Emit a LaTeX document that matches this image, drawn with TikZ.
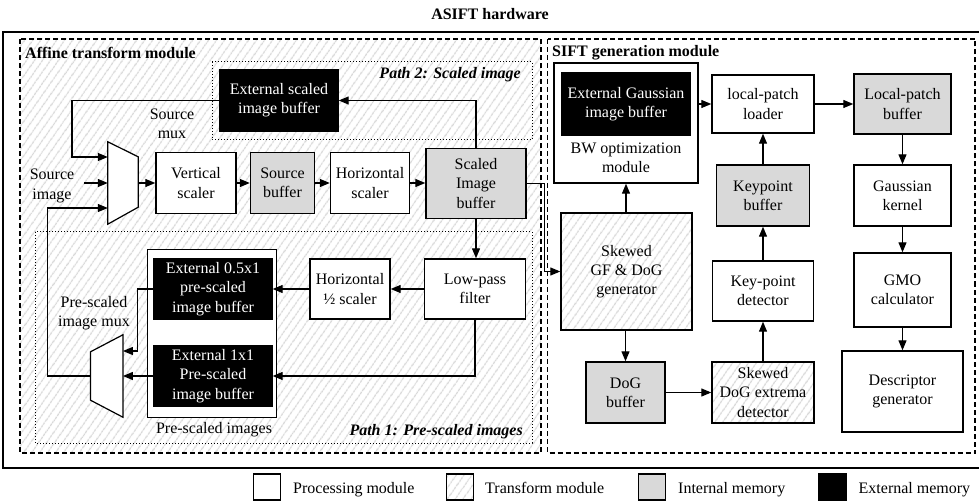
\documentclass[tikz,border=0pt]{standalone}
\usepackage{fontspec}
\setmainfont{Liberation Serif}
\usetikzlibrary{arrows.meta,patterns.meta,calc}
\definecolor{memgray}{RGB}{217,217,217}
\definecolor{hatchgray}{RGB}{216,216,216}

\begin{document}
\begin{tikzpicture}[x=1pt,y=-1pt,
  txt/.style={font=\fontsize{16}{19.3}\selectfont, align=center},
  blk/.style={txt, draw, line width=1.4pt, inner sep=0pt},
  proc/.style={blk, fill=white},
  imem/.style={blk, fill=memgray},
  emem/.style={blk, fill=black, text=white},
  hatched/.style={preaction={fill=white}, pattern={Lines[angle=55,distance=6.5pt,line width=1.4pt]}, pattern color=hatchgray},
  xform/.style={blk, hatched},
  arr/.style={line width=1.2pt, -{Triangle[length=10pt,width=8pt]}},
  ttl/.style={font=\fontsize{16}{19}\selectfont\bfseries},
  pathlbl/.style={font=\fontsize{16}{19}\selectfont\bfseries\itshape},
  modframe/.style={line width=1.1pt, dash pattern=on 5pt off 3pt},
  pathframe/.style={line width=1pt, dotted},
  legbox/.style={draw, line width=1.2pt, minimum width=27, minimum height=26, inner sep=0pt},
  legtxt/.style={font=\fontsize{16}{19}\selectfont, anchor=base west, inner sep=0pt},
]
\useasboundingbox (0,0) rectangle (979,502);

% title and outer frame
\node[ttl] (title) at (490,14) {ASIFT hardware};
\draw[line width=1.5pt] (985,32) -- (3,32) -- (3,468) -- (985,468);

% module frames
\draw[modframe, hatched] (20,39) rectangle (541,453);
\draw[modframe] (547.5,39) rectangle (975,453);
\node[ttl, anchor=west, inner sep=0pt] (afft) at (25,53) {Affine transform module};
\node[ttl, anchor=west, inner sep=0pt] (sift) at (552,53) {SIFT generation module};

% path frames
\draw[pathframe] (212,62) rectangle (532,140);
\draw[pathframe] (35,232) rectangle (532,443);
\node[pathlbl, anchor=east, inner sep=0pt] (p2) at (521,75) {Path 2: Scaled image};
\node[pathlbl, anchor=east, inner sep=0pt] (p1) at (523,432) {Path 1: Pre-scaled images};

% ---- affine transform module ----
\node[emem, minimum width=118, minimum height=61] (extS) at (279,100.5) {External scaled\\image buffer};

% source mux
\node[minimum width=30, minimum height=82, inner sep=0pt] (smux) at (123,183) {};
\draw[line width=1.2pt, fill=white] (smux.north west) -- ([yshift=-15pt]smux.north east)
  -- ([yshift=17pt]smux.south east) -- (smux.south west) -- cycle;
\node[txt] (smuxl) at (172,124) {Source\\mux};
\node[txt] (srcimg) at (52,186) {Source\\image};
\coordinate (srcin) at (84,183);

\node[proc, minimum width=80, minimum height=61] (vs) at (196,183) {Vertical\\scaler};
\node[imem, minimum width=64, minimum height=61] (sb) at (282.5,183) {Source\\buffer};
\node[proc, minimum width=79, minimum height=61] (hs) at (370,183) {Horizontal\\scaler};
\node[imem, minimum width=100, minimum height=70] (shb) at (476,183.5) {Scaled\\Image\\buffer};

\node[proc, minimum width=101, minimum height=60] (lpf) at (475,289) {Low-pass\\filter};
\node[proc, minimum width=80, minimum height=60] (hhs) at (350,289) {Horizontal\\½ scaler};

\node[draw, line width=1.2pt, fill=white, minimum width=129, minimum height=168, inner sep=0pt] (psi) at (212,333.3) {};
\node[txt] (psil) at (214,430) {Pre-scaled images};
\node[emem, minimum width=118, minimum height=60] (e05) at (213,289) {External 0.5x1\\pre-scaled\\image buffer};
\node[emem, minimum width=118, minimum height=60] (e11) at (213,376) {External 1x1\\Pre-scaled\\image buffer};

% pre-scaled image mux
\node[minimum width=32, minimum height=82, inner sep=0pt] (pmux) at (106.7,376) {};
\draw[line width=1.2pt, fill=white] (pmux.north east) -- (pmux.south east)
  -- ([yshift=17pt]pmux.south west) -- ([yshift=-17pt]pmux.north west) -- cycle;
\node[txt] (pmuxl) at (94,313) {Pre-scaled\\image mux};

% affine connectors
\draw[arr] (extS.west) -| (72,157) -- ([yshift=26pt]smux.west);
\draw[arr] (srcin) -- (smux.west);
\draw[arr] (smux.east) -- (vs.west);
\draw[arr] (vs.east) -- (sb.west);
\draw[arr] (sb.east) -- (hs.west);
\draw[arr] (hs.east) -- (hs.east -| shb.west);
\draw[arr] (shb.north) |- (extS.east);
\draw[arr] (shb.south) -- (shb.south |- lpf.north);
\draw[arr] (lpf.west) -- (hhs.east);
\draw[arr] (hhs.west) -- (e05.east);
\draw[arr] (lpf.south) |- (e11.east);
\draw[arr] (e11.west) -- (pmux.east);
\draw[arr] (e05.west) -- ++(-16,0) |- ([yshift=25pt]pmux.east);
\draw[arr] (pmux.west) -- ++(-43,0) |- ([yshift=-25pt]smux.west);

% ---- SIFT generation module ----
\node[proc, minimum width=144, minimum height=120] (bw) at (626,123) {};
\node[emem, minimum width=128, minimum height=62] (egb) at (626,104) {External Gaussian\\image buffer};
\node[txt] (bwl) at (626,157.5) {BW optimization\\module};
\node[proc, minimum width=102, minimum height=58] (lpl) at (763,104) {local-patch\\loader};
\node[imem, minimum width=97, minimum height=60] (lpb) at (902.5,104) {Local-patch\\buffer};
\node[imem, minimum width=93, minimum height=61] (kpb) at (763,195.5) {Keypoint\\buffer};
\node[proc, minimum width=97, minimum height=61] (gk) at (902.5,195.5) {Gaussian\\kernel};
\node[xform, minimum width=131, minimum height=117] (skgf) at (626.5,271.5) {Skewed\\GF \& DoG\\generator};
\node[proc, minimum width=101, minimum height=60] (kpd) at (763,291) {Key-point\\detector};
\node[proc, minimum width=97, minimum height=74] (gmo) at (902.5,290) {GMO\\calculator};
\node[imem, minimum width=79, minimum height=61] (dogb) at (625.5,392.5) {DoG\\buffer};
\node[xform, minimum width=102, minimum height=61] (skd) at (763,392.5) {Skewed\\DoG extrema\\detector};
\node[proc, minimum width=121, minimum height=81] (desc) at (902.5,391.5) {Descriptor\\generator};

% cross-module connector
\draw[arr] (shb.east) -- ++(18,0) |- (skgf.west);

% SIFT connectors
\draw[arr] (bw.east |- lpl.west) -- (lpl.west);
\draw[arr] (lpl.east) -- (lpb.west);
\draw[arr] (kpb.north) -- (lpl.south);
\draw[arr] (lpb.south) -- (gk.north);
\draw[arr] (skgf.north -| bw.south) -- (bw.south);
\draw[arr] (skgf.south -| dogb.north) -- (dogb.north);
\draw[arr] (dogb.east) -- (skd.west);
\draw[arr] (skd.north) -- (kpd.south);
\draw[arr] (kpd.north) -- (kpb.south);
\draw[arr] (gk.south) -- (gmo.north);
\draw[arr] (gmo.south) -- (desc.north);

% legend
\node[legbox, fill=white] (lg1) at (267.3,487) {};
\node[legtxt] (lt1) at (293,493) {Processing module};
\node[legbox, hatched] (lg2) at (460,487) {};
\node[legtxt] (lt2) at (485,493) {Transform module};
\node[legbox, fill=memgray] (lg3) at (652,487) {};
\node[legtxt] (lt3) at (678,493) {Internal memory};
\node[legbox, fill=black] (lg4) at (832.5,487) {};
\node[legtxt] (lt4) at (858.5,493) {External memory};
\end{tikzpicture}
\end{document}
